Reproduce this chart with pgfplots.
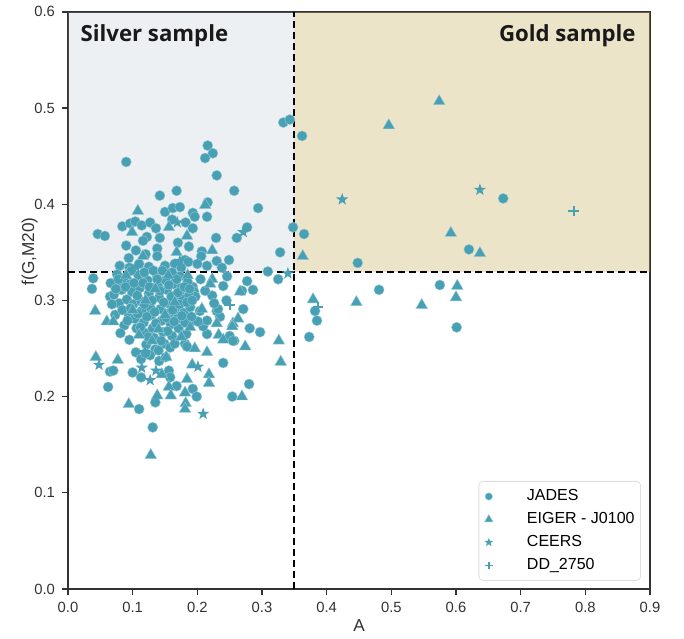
\documentclass[border=0pt]{standalone}
\usepackage{fontspec}
\setmainfont{Liberation Sans}
\newfontfamily\opensans{Open Sans}
\usepackage{pgfplots}
\pgfplotsset{compat=1.18}
\definecolor{ptc}{RGB}{72,160,181}
\definecolor{goldc}{RGB}{200,177,100}
\definecolor{silverc}{RGB}{160,180,192}
\definecolor{axc}{RGB}{50,50,50}
\pgfdeclareplotmark{fstar}{%
  \pgfpathmoveto{\pgfpointpolar{90}{\pgfplotmarksize}}%
  \pgfpathlineto{\pgfpointpolar{126}{0.4\pgfplotmarksize}}%
  \pgfpathlineto{\pgfpointpolar{162}{\pgfplotmarksize}}%
  \pgfpathlineto{\pgfpointpolar{198}{0.4\pgfplotmarksize}}%
  \pgfpathlineto{\pgfpointpolar{234}{\pgfplotmarksize}}%
  \pgfpathlineto{\pgfpointpolar{270}{0.4\pgfplotmarksize}}%
  \pgfpathlineto{\pgfpointpolar{306}{\pgfplotmarksize}}%
  \pgfpathlineto{\pgfpointpolar{342}{0.4\pgfplotmarksize}}%
  \pgfpathlineto{\pgfpointpolar{18}{\pgfplotmarksize}}%
  \pgfpathlineto{\pgfpointpolar{54}{0.4\pgfplotmarksize}}%
  \pgfpathclose\pgfusepathqfill}
\begin{document}
\begin{tikzpicture}
\begin{axis}[
  width=291pt, height=288.5pt, scale only axis,
  xmin=0, xmax=0.9, ymin=0, ymax=0.6,
  xtick={0,0.1,0.2,0.3,0.4,0.5,0.6,0.7,0.8,0.9},
  ytick={0,0.1,0.2,0.3,0.4,0.5,0.6},
  /pgf/number format/.cd, fixed, fixed zerofill, precision=1, assume math mode=true, /pgfplots/.cd,
  tick align=outside, tick pos=left, major tick length=3pt,
  axis line style={axc, line width=0.7pt},
  every tick/.style={axc, line width=0.7pt},
  tick label style={font=\fontsize{7.4}{8}\selectfont, text=axc},
  label style={font=\fontsize{8.6}{9}\selectfont, text=axc},
  xlabel={A}, ylabel={f(G,M20)},
  xlabel style={at={(axis description cs:0.5,-0.064)}, anchor=center},
  ylabel style={at={(axis description cs:-0.066,0.585)}, anchor=center},
  clip=false,
  legend style={at={(0.9845,0.0139)}, anchor=south east, draw=gray!25, rounded corners=2pt,
    font=\fontsize{8}{9.5}\selectfont, row sep=0.4pt, inner xsep=1pt, inner ysep=2pt},
  legend cell align=left,
  legend image code/.code={%
    \path[draw=none,fill=none] (0cm,0cm) -- (0.74cm,0cm);
    \draw[#1, every mark/.append style={scale=0.72}] plot[only marks] coordinates {(0.14cm,0cm)};},
]
% JADES
\addplot[only marks, mark=*, mark size=2.55pt, mark options={fill=ptc, draw=white!45!ptc, line width=0.2pt}] table {
0.216 0.461
0.224 0.453
0.212 0.448
0.090 0.444
0.230 0.430
0.257 0.414
0.142 0.409
0.168 0.414
0.294 0.396
0.216 0.402
0.150 0.392
0.162 0.396
0.173 0.397
0.193 0.391
0.196 0.387
0.215 0.387
0.161 0.384
0.182 0.381
0.193 0.375
0.084 0.377
0.096 0.380
0.104 0.382
0.114 0.378
0.127 0.381
0.136 0.375
0.046 0.369
0.057 0.367
0.277 0.376
0.261 0.365
0.229 0.365
0.122 0.366
0.116 0.362
0.142 0.365
0.170 0.360
0.187 0.356
0.090 0.357
0.138 0.354
0.207 0.351
0.206 0.346
0.328 0.350
0.094 0.344
0.138 0.346
0.181 0.342
0.186 0.340
0.230 0.341
0.249 0.342
0.333 0.485
0.343 0.488
0.348 0.376
0.080 0.336
0.095 0.334
0.110 0.338
0.125 0.335
0.150 0.336
0.165 0.338
0.175 0.334
0.200 0.338
0.215 0.336
0.238 0.334
0.120 0.348
0.105 0.352
0.362 0.471
0.365 0.369
0.673 0.406
0.620 0.353
0.448 0.339
0.481 0.311
0.575 0.316
0.601 0.272
0.382 0.289
0.385 0.279
0.373 0.262
0.309 0.330
0.325 0.322
0.277 0.320
0.039 0.323
0.037 0.312
0.065 0.304
0.246 0.325
0.269 0.310
0.286 0.311
0.271 0.291
0.281 0.271
0.297 0.267
0.240 0.235
0.280 0.213
0.254 0.200
0.215 0.265
0.257 0.258
0.181 0.255
0.184 0.252
0.204 0.289
0.230 0.289
0.235 0.283
0.209 0.273
0.215 0.279
0.193 0.314
0.195 0.309
0.197 0.304
0.223 0.305
0.173 0.309
0.178 0.298
0.173 0.288
0.232 0.291
0.186 0.279
0.193 0.279
0.201 0.278
0.250 0.263
0.255 0.258
0.205 0.322
0.212 0.310
0.240 0.315
0.226 0.297
0.245 0.300
0.065 0.226
0.070 0.227
0.062 0.210
0.100 0.225
0.113 0.220
0.156 0.227
0.158 0.220
0.168 0.211
0.193 0.208
0.199 0.200
0.135 0.194
0.110 0.187
0.131 0.168
0.080 0.314
0.066 0.318
0.071 0.306
0.079 0.297
0.073 0.285
0.083 0.311
0.086 0.323
0.091 0.301
0.093 0.287
0.087 0.274
0.096 0.317
0.099 0.309
0.101 0.296
0.103 0.281
0.106 0.271
0.109 0.326
0.111 0.313
0.113 0.299
0.114 0.289
0.117 0.277
0.119 0.266
0.121 0.254
0.123 0.321
0.125 0.307
0.127 0.293
0.129 0.285
0.131 0.271
0.133 0.261
0.135 0.249
0.137 0.327
0.139 0.315
0.141 0.303
0.143 0.291
0.145 0.279
0.147 0.267
0.149 0.255
0.151 0.321
0.153 0.311
0.155 0.297
0.157 0.287
0.159 0.275
0.161 0.263
0.163 0.317
0.165 0.305
0.167 0.293
0.169 0.281
0.171 0.271
0.173 0.325
0.175 0.313
0.177 0.301
0.179 0.287
0.181 0.277
0.183 0.265
0.185 0.319
0.187 0.305
0.189 0.293
0.191 0.283
0.076 0.327
0.081 0.266
0.095 0.259
0.105 0.246
0.113 0.239
0.127 0.243
0.141 0.237
0.151 0.241
0.158 0.251
0.118 0.329
0.132 0.331
0.146 0.331
0.161 0.329
0.098 0.331
0.068 0.296
0.074 0.312
0.078 0.322
0.084 0.290
0.089 0.314
0.092 0.279
0.097 0.292
0.102 0.318
0.107 0.305
0.108 0.286
0.112 0.272
0.116 0.318
0.118 0.296
0.122 0.283
0.124 0.262
0.126 0.314
0.130 0.300
0.134 0.288
0.136 0.276
0.138 0.322
0.142 0.310
0.144 0.258
0.148 0.298
0.152 0.282
0.154 0.268
0.156 0.316
0.160 0.304
0.162 0.290
0.164 0.278
0.168 0.322
0.170 0.308
0.172 0.296
0.176 0.284
0.180 0.314
0.184 0.298
0.188 0.312
0.192 0.300
0.120 0.245
0.140 0.248
0.165 0.255
};
\addlegendentry{JADES}
% EIGER
\addplot[only marks, mark=triangle*, mark size=3.4pt, mark options={fill=ptc, draw=white!45!ptc, line width=0.2pt}] table {
0.574 0.507
0.496 0.482
0.592 0.370
0.637 0.349
0.363 0.346
0.108 0.393
0.212 0.399
0.156 0.376
0.099 0.371
0.184 0.367
0.168 0.350
0.223 0.352
0.116 0.346
0.602 0.315
0.600 0.303
0.547 0.295
0.446 0.298
0.379 0.301
0.042 0.289
0.060 0.278
0.070 0.278
0.223 0.322
0.220 0.317
0.266 0.309
0.326 0.258
0.329 0.236
0.269 0.200
0.233 0.264
0.240 0.259
0.274 0.252
0.196 0.250
0.215 0.246
0.152 0.241
0.189 0.272
0.230 0.276
0.255 0.276
0.263 0.281
0.254 0.273
0.207 0.291
0.043 0.241
0.077 0.238
0.145 0.223
0.156 0.210
0.184 0.218
0.192 0.233
0.218 0.223
0.218 0.214
0.181 0.204
0.182 0.193
0.181 0.187
0.159 0.201
0.138 0.201
0.094 0.192
0.128 0.139
0.120 0.300
0.135 0.312
0.100 0.290
0.150 0.285
0.165 0.298
0.175 0.262
0.130 0.258
0.110 0.264
0.090 0.326
0.155 0.326
0.185 0.326
0.140 0.270
};
\addlegendentry{EIGER - J0100}
% CEERS
\addplot[only marks, mark=fstar, mark size=3.2pt, mark options={fill=ptc}] table {
0.424 0.405
0.637 0.415
0.169 0.381
0.271 0.371
0.340 0.328
0.048 0.233
0.114 0.230
0.127 0.217
0.136 0.227
0.201 0.231
0.209 0.182
0.105 0.335
0.173 0.341
};
\addlegendentry{CEERS}
% DD_2750
\addplot[only marks, mark=+, mark size=2.6pt, mark options={draw=ptc, line width=0.9pt}] table {
0.782 0.393
0.387 0.293
0.250 0.295
0.119 0.247
};
\addlegendentry{DD\_2750}
% region shading
\fill[silverc, fill opacity=0.2] (axis cs:0,0.33) rectangle (axis cs:0.35,0.6);
\fill[goldc, fill opacity=0.35] (axis cs:0.35,0.33) rectangle (axis cs:0.9,0.6);
\draw[black, line width=1pt, dash pattern=on 3.5pt off 2pt] (axis cs:0.35,0) -- (axis cs:0.35,0.6);
\draw[black, line width=1pt, dash pattern=on 3.5pt off 2pt] (axis cs:0,0.33) -- (axis cs:0.9,0.33);
\node[anchor=north west, inner sep=0pt, font=\opensans\bfseries\fontsize{11.1}{13}\selectfont, text=black!90] at (rel axis cs:0.021,0.979) {Silver sample};
\node[anchor=north east, inner sep=0pt, font=\opensans\bfseries\fontsize{11.1}{13}\selectfont, text=black!90] at (rel axis cs:0.976,0.979) {Gold sample};
\end{axis}
\path (current axis.south west) ++(-34pt,-25pt) coordinate (bbA);
\path (current axis.north east) ++(17pt,4pt) coordinate (bbB);
\useasboundingbox (bbA) rectangle (bbB);
\end{tikzpicture}
\end{document}
